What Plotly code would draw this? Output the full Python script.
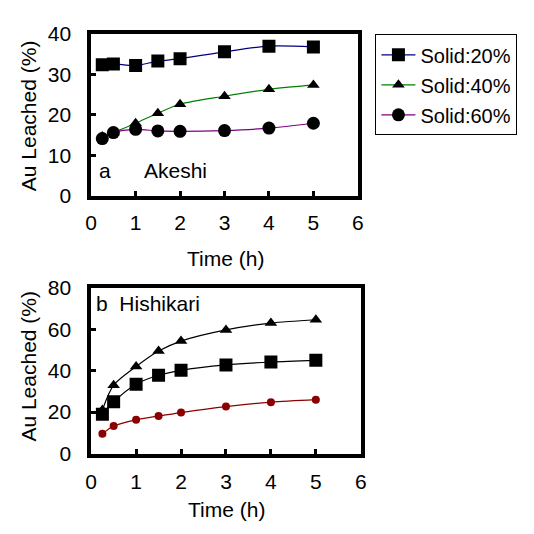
import plotly.graph_objects as go

time_h = [0.25, 0.5, 1, 1.5, 2, 3, 4, 5]

# Panel a: Akeshi
akeshi_solid20 = [32.4, 32.6, 32.2, 33.3, 33.9, 35.6, 37.0, 36.8]
akeshi_solid40 = [14.6, 15.6, 17.9, 20.4, 22.6, 24.6, 26.3, 27.4]
akeshi_solid60 = [14.1, 15.6, 16.4, 16.0, 15.9, 16.1, 16.7, 17.9]

# Panel b: Hishikari
hishi_solid20 = [19.0, 25.0, 33.5, 37.8, 40.2, 42.8, 44.2, 45.0]
hishi_solid40 = [21.0, 33.0, 42.0, 49.5, 54.3, 59.7, 63.0, 64.6]
hishi_solid60 = [9.5, 13.3, 16.3, 18.1, 19.8, 22.7, 24.8, 26.0]

legend_names = ["Solid:20%", "Solid:40%", "Solid:60%"]
x_ticks = [0, 1, 2, 3, 4, 5, 6]
y_ticks_a = [0, 10, 20, 30, 40]
y_ticks_b = [0, 20, 40, 60, 80]

FONT = "Arial, Liberation Sans, sans-serif"
FS = 21
OFF = 8          # page body margin
W = H = 534 - 2 * OFF   # figure fits the window exactly


def px_x(p):
    return (p - OFF) / W


def px_y(p):
    return 1 - (p - OFF) / H


fig = go.Figure()

top_series = [
    (akeshi_solid20, "#000080", "square", 13),
    (akeshi_solid40, "#008000", "triangle-up", 11),
    (akeshi_solid60, "#800080", "circle", 13),
]
for i, (vals, col, sym, sz) in enumerate(top_series):
    fig.add_trace(go.Scatter(
        x=time_h, y=vals, mode="lines+markers", name=legend_names[i],
        line=dict(color=col, width=1.2, shape="spline", smoothing=0.8),
        marker=dict(symbol=sym, size=sz, color="black", line=dict(width=0)),
        xaxis="x", yaxis="y", legendgroup=str(i), showlegend=True,
    ))

bottom_series = [
    (hishi_solid40, "black", "black", "triangle-up", 11),
    (hishi_solid20, "black", "black", "square", 13),
    (hishi_solid60, "#8B0000", "#8B0000", "circle", 8),
]
for vals, lcol, mcol, sym, sz in bottom_series:
    fig.add_trace(go.Scatter(
        x=time_h, y=vals, mode="lines+markers",
        line=dict(color=lcol, width=1.2, shape="spline", smoothing=0.8),
        marker=dict(symbol=sym, size=sz, color=mcol, line=dict(width=0)),
        xaxis="x2", yaxis="y2", showlegend=False,
    ))

axis_common = dict(
    showline=True, linecolor="black", linewidth=3.5, mirror=True,
    ticks="inside", ticklen=5, tickwidth=3, tickcolor="black",
    showgrid=False, zeroline=False,
    tickfont=dict(family=FONT, size=FS, color="black"),
)

fig.update_layout(
    width=W, height=H,
    margin=dict(l=0, r=0, t=0, b=0),
    paper_bgcolor="white", plot_bgcolor="white",
    font=dict(family=FONT, size=FS, color="black"),
    xaxis=dict(domain=[px_x(87), px_x(360)], range=[0, 6], tickvals=x_ticks,
               anchor="y", ticklabelstandoff=6, **axis_common),
    yaxis=dict(domain=[px_y(191.7), px_y(22.7)], range=[0, 40], tickvals=y_ticks_a,
               anchor="x", ticklabelstandoff=12, **axis_common),
    xaxis2=dict(domain=[px_x(87), px_x(363)], range=[0, 6], tickvals=x_ticks,
                anchor="y2", ticklabelstandoff=6, **axis_common),
    yaxis2=dict(domain=[px_y(461.7), px_y(288.3)], range=[0, 80], tickvals=y_ticks_b,
                anchor="x2", ticklabelstandoff=12, **axis_common),
    legend=dict(
        x=px_x(378), y=px_y(23), xanchor="left", yanchor="top",
        bordercolor="black", borderwidth=1, bgcolor="white",
        font=dict(family=FONT, size=20, color="black"),
        traceorder="grouped", tracegroupgap=1, itemwidth=34,
    ),
)

annots = [
    dict(text="a", x=px_x(101), y=px_y(165)),
    dict(text="Akeshi", x=px_x(173), y=px_y(165)),
    dict(text="b  Hishikari", x=px_x(145), y=px_y(305)),
    dict(text="Time (h)", x=px_x(225), y=px_y(258)),
    dict(text="Time (h)", x=px_x(226), y=px_y(520)),
    dict(text="Au Leached (%)", x=px_x(23), y=px_y(108), textangle=-90),
    dict(text="Au Leached (%)", x=px_x(23), y=px_y(370), textangle=-90),
]
for a in annots:
    fig.add_annotation(xref="paper", yref="paper", showarrow=False,
                       xanchor="center", yanchor="middle",
                       font=dict(family=FONT, size=FS, color="black"), **a)

fig.write_html("out.html")
